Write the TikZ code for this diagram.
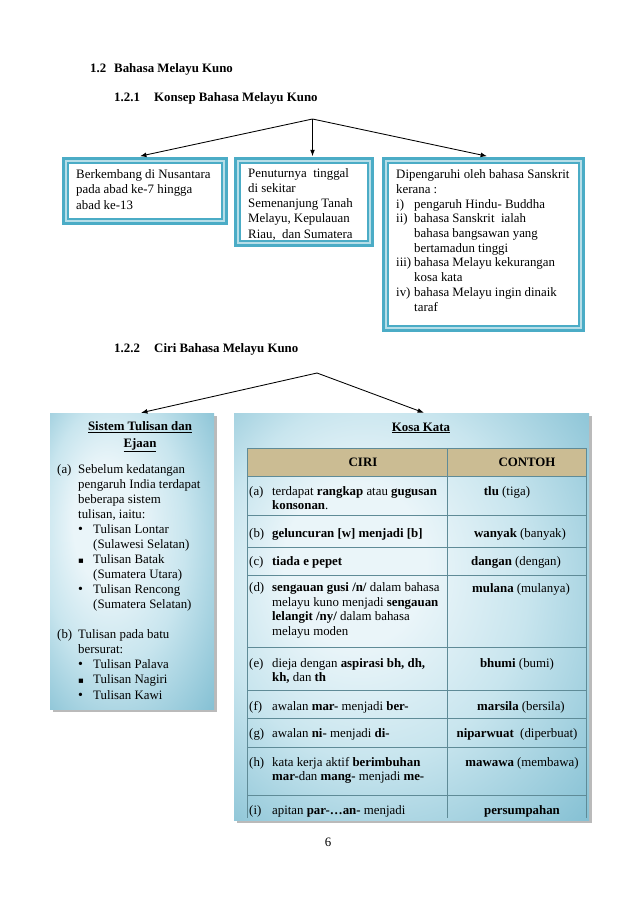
\documentclass[tikz,border=0pt]{standalone}
\usepackage{fontspec}
\setmainfont{Liberation Serif}
\newfontfamily\dejavu{DejaVu Sans}
\usetikzlibrary{calc,fit,shadows,arrows.meta}
\definecolor{tealD}{HTML}{4BACC6}
\definecolor{tealL}{HTML}{B7DEE8}
\definecolor{tblline}{HTML}{5F8B97}
\definecolor{hdrtan}{HTML}{CBBC93}
\definecolor{shL}{HTML}{EAF5F9}
\definecolor{shM}{HTML}{C8E5EE}
\definecolor{shD}{HTML}{86C1D4}
\pgfdeclareradialshading{boxrad}{\pgfpoint{-10bp}{8bp}}{color(0bp)=(shL); color(10bp)=(shL); color(22bp)=(shM); color(38bp)=(shD); color(50bp)=(shD)}
\newcommand\rbul{{\fontsize{13pt}{13pt}\selectfont •}}
\newcommand\sbul{{\dejavu\fontsize{8pt}{8pt}\selectfont ▪}}
\begin{document}
\begin{tikzpicture}[x=0.9326pt,y=-0.9326pt,
  hd/.style={font=\fontsize{12pt}{14pt}\selectfont\bfseries, inner sep=0},
  txt/.style={font=\fontsize{12pt}{14pt}\selectfont, inner sep=0, align=left},
  txtb/.style={font=\fontsize{12pt}{13.7pt}\selectfont, inner sep=0, align=left},
  cell/.style={font=\fontsize{12pt}{13.5pt}\selectfont, inner sep=0, align=left},
  frame/.style={draw=tealD, line width=1.5, double=tealL, double distance=2.5, fill=white, preaction={draw=tealD, line width=8}, inner sep=0},
  shbox/.style={shade, shading=boxrad, inner sep=0, drop shadow={shadow xshift=2.5pt, shadow yshift=-2.5pt, opacity=0.45, fill=black!60}},
  conn/.style={-{Latex[length=6pt,width=4.5pt]}, line width=0.8pt},
  tbl/.style={draw=tblline, line width=0.7pt}]
\useasboundingbox (0,0) rectangle (638,903);
\fill[white] (0,0) rectangle (638,903);

% headings
\node[hd, anchor=base west] (h12) at (90,73) {1.2};
\node[hd, anchor=base west] (h12t) at (114,73) {Bahasa Melayu Kuno};
\node[hd, anchor=base west] (h121) at (114,102) {1.2.1};
\node[hd, anchor=base west] (h121t) at (154,102) {Konsep Bahasa Melayu Kuno};
\node[hd, anchor=base west] (h122) at (114,352) {1.2.2};
\node[hd, anchor=base west] (h122t) at (154,352) {Ciri Bahasa Melayu Kuno};

% top boxes
\node[frame, fit={(66,161)(224,221)}] (b1) {};
\node[frame, fit={(238,161)(370,243)}] (b2) {};
\node[frame, fit={(386,161)(581,328)}] (b3) {};

% (anchor base = baseline of the last line)
\node[txt, anchor=base west] (t1) at (76,209) {Berkembang di Nusantara\\pada abad ke-7 hingga\\abad ke-13};
\node[txt, anchor=base west] (t2) at (248,238) {Penuturnya\ \ tinggal\\di sekitar\\Semenanjung Tanah\\Melayu, Kepulauan\\Riau,\ \ dan Sumatera};
\node[txtb, anchor=base west] (t3) at (396,311) {Dipengaruhi oleh bahasa Sanskrit\\kerana :\\
\makebox[16.8pt][l]{i)}pengaruh Hindu- Buddha\\
\makebox[16.8pt][l]{ii)}bahasa Sanskrit\ \ ialah\\
\hspace*{16.8pt}bahasa bangsawan yang\\
\hspace*{16.8pt}bertamadun tinggi\\
\makebox[16.8pt][l]{iii)}bahasa Melayu kekurangan\\
\hspace*{16.8pt}kosa kata\\
\makebox[16.8pt][l]{iv)}bahasa Melayu ingin dinaik\\
\hspace*{16.8pt}taraf};

\coordinate (top1) at (312.5,119);
\draw[conn] (top1) -- ($(b1.north)+(-5,-4)$);
\draw[conn] (top1) -- ($(top1 |- b2.north)+(0,-4)$);
\draw[conn] (top1) -- ($(b3.north)+(3.5,-4)$);

% lower boxes
\node[shbox, fit={(50,413)(214,709)}] (L) {};
\node[shbox, fit={(234,413)(589,820)}] (R) {};

\coordinate (top2) at (317,373);
\draw[conn] (top2) -- ($(L.north)+(9,0)$);
\draw[conn] (top2) -- ($(R.north)+(12.5,0)$);

% left box text
\node[txt, anchor=base, align=center, font=\fontsize{12pt}{15pt}\selectfont\bfseries] (lt) at (140,447) {\underline{Sistem Tulisan dan}\\\underline{Ejaan}};
\node[txt, anchor=base west] (la) at (57,699) {%
\makebox[19.6pt][l]{(a)}Sebelum kedatangan\\
\hspace*{19.6pt}pengaruh India terdapat\\
\hspace*{19.6pt}beberapa sistem\\
\hspace*{19.6pt}tulisan, iaitu:\\
\hspace*{19.6pt}\makebox[14pt][l]{\rbul}Tulisan Lontar\\
\hspace*{33.6pt}(Sulawesi Selatan)\\
\hspace*{19.6pt}\makebox[14pt][l]{\sbul}Tulisan Batak\\
\hspace*{33.6pt}(Sumatera Utara)\\
\hspace*{19.6pt}\makebox[14pt][l]{\rbul}Tulisan Rencong\\
\hspace*{33.6pt}(Sumatera Selatan)\\[14pt]
\makebox[19.6pt][l]{(b)}Tulisan pada batu\\
\hspace*{19.6pt}bersurat:\\
\hspace*{19.6pt}\makebox[14pt][l]{\rbul}Tulisan Palava\\
\hspace*{19.6pt}\makebox[14pt][l]{\sbul}Tulisan Nagiri\\
\hspace*{19.6pt}\makebox[14pt][l]{\rbul}Tulisan Kawi};

% right box
\node[txt, anchor=base, font=\fontsize{12pt}{14pt}\selectfont\bfseries] (kk) at (421,431) {\underline{Kosa Kata}};
\fill[hdrtan] (247,448) rectangle (586,476);
\foreach \yy in {448,476,515,547,575,647,690,718,747,795}
  \draw[tbl] (247,\yy) -- (586,\yy);
\foreach \xx in {247,447,586}
  \draw[tbl] (\xx,448) -- (\xx,818);
\node[cell, anchor=base, font=\fontsize{12pt}{14pt}\selectfont\bfseries] (hc) at (363,466) {CIRI};
\node[cell, anchor=base, font=\fontsize{12pt}{14pt}\selectfont\bfseries] (hk) at (527,466) {CONTOH};

\node[cell, anchor=base west] (ca) at (249,509.5) {\makebox[21.4pt][l]{(a)}terdapat \textbf{rangkap} atau \textbf{gugusan}\\\hspace*{21.4pt}\textbf{konsonan}.};
\node[cell, anchor=base west] (cb) at (249,537) {\makebox[21.4pt][l]{(b)}\textbf{geluncuran [w] menjadi [b]}};
\node[cell, anchor=base west] (cc) at (249,565) {\makebox[21.4pt][l]{(c)}\textbf{tiada e pepet}};
\node[cell, anchor=base west] (cd) at (249,635.4) {\makebox[21.4pt][l]{(d)}\textbf{sengauan gusi /n/} dalam bahasa\\\hspace*{21.4pt}melayu kuno menjadi \textbf{sengauan}\\\hspace*{21.4pt}\textbf{lelangit /ny/} dalam bahasa\\\hspace*{21.4pt}melayu moden};
\node[cell, anchor=base west] (ce) at (249,681.5) {\makebox[21.4pt][l]{(e)}dieja dengan \textbf{aspirasi bh, dh,}\\\hspace*{21.4pt}\textbf{kh,} dan \textbf{th}};
\node[cell, anchor=base west] (cf) at (249,710) {\makebox[21.4pt][l]{(f)}awalan \textbf{mar-} menjadi \textbf{ber-}};
\node[cell, anchor=base west] (cg) at (249,737) {\makebox[21.4pt][l]{(g)}awalan \textbf{ni-} menjadi \textbf{di-}};
\node[cell, anchor=base west] (ch) at (249,780.5) {\makebox[21.4pt][l]{(h)}kata kerja aktif \textbf{berimbuhan}\\\hspace*{21.4pt}\textbf{mar-}dan \textbf{mang-} menjadi \textbf{me-}};
\node[cell, anchor=base west] (ci) at (249,814) {\makebox[21.4pt][l]{(i)}apitan \textbf{par-…an-} menjadi};

\node[cell, anchor=base] (ka) at (507,495) {\textbf{tlu} (tiga)};
\node[cell, anchor=base] (kb) at (520,537) {\textbf{wanyak} (banyak)};
\node[cell, anchor=base] (kc) at (516,565) {\textbf{dangan} (dengan)};
\node[cell, anchor=base] (kd) at (521,592) {\textbf{mulana} (mulanya)};
\node[cell, anchor=base] (ke) at (517,667) {\textbf{bhumi} (bumi)};
\node[cell, anchor=base] (kf) at (521,710) {\textbf{marsila} (bersila)};
\node[cell, anchor=base] (kg) at (517,737) {\textbf{niparwuat}\ \ (diperbuat)};
\node[cell, anchor=base] (kh) at (522,766) {\textbf{mawawa} (membawa)};
\node[cell, anchor=base] (ki) at (522,814) {\textbf{persumpahan}};

\node[txt, anchor=base] (pg) at (328,846) {6};
\end{tikzpicture}
\end{document}
